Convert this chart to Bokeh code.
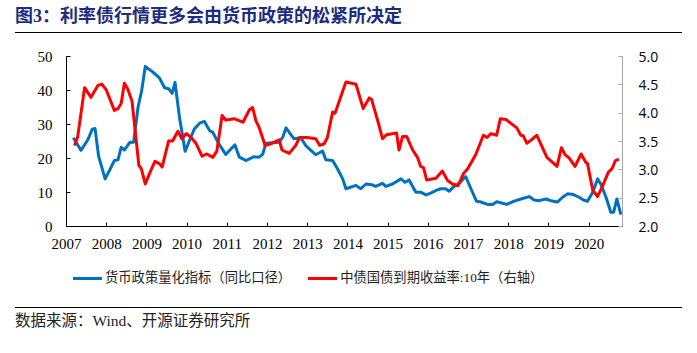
from bokeh.plotting import figure
from bokeh.models import Range1d, LinearAxis, FixedTicker, PrintfTickFormatter, Div
from bokeh.layouts import column
from bokeh.embed import file_html
from bokeh.resources import INLINE

title_text = "图3：利率债行情更多会由货币政策的松紧所决定"
source_text = "数据来源：Wind、开源证券研究所"
blue_name = "货币政策量化指标（同比口径）"
red_name = "中债国债到期收益率:10年（右轴）"

x_ticks = list(range(2007, 2021))
left_ticks = [0, 10, 20, 30, 40, 50]
right_ticks = [2.0, 2.5, 3.0, 3.5, 4.0, 4.5, 5.0]

# time in decimal years
blue_t = [2007.17, 2007.36, 2007.53, 2007.64, 2007.71, 2007.80, 2007.96, 2008.07, 2008.19, 2008.28,
          2008.36, 2008.44, 2008.57, 2008.67, 2008.78, 2008.87, 2008.96, 2009.15, 2009.31, 2009.44,
          2009.54, 2009.63, 2009.70, 2009.81, 2009.95, 2010.06, 2010.18, 2010.31, 2010.43, 2010.56,
          2010.64, 2010.79, 2010.96, 2011.09, 2011.19, 2011.30, 2011.47, 2011.65, 2011.79, 2011.88,
          2011.96, 2012.29, 2012.38, 2012.46, 2012.54, 2012.66, 2012.83, 2012.95, 2013.08, 2013.20,
          2013.37, 2013.45, 2013.62, 2013.74, 2013.87, 2013.95, 2014.20, 2014.32, 2014.45, 2014.59,
          2014.69, 2014.86, 2014.94, 2015.11, 2015.32, 2015.42, 2015.52, 2015.69, 2015.81, 2015.94,
          2016.06, 2016.19, 2016.31, 2016.43, 2016.52, 2016.64, 2016.77, 2016.93, 2017.06, 2017.20,
          2017.31, 2017.47, 2017.60, 2017.70, 2017.82, 2017.95, 2018.12, 2018.30, 2018.51, 2018.63,
          2018.76, 2018.92, 2019.05, 2019.21, 2019.34, 2019.46, 2019.61, 2019.75, 2019.86, 2019.96,
          2020.09, 2020.21, 2020.29, 2020.42, 2020.54, 2020.61, 2020.69, 2020.79]
blue_v = [26.1, 22.4, 25.5, 28.6, 28.8, 20.6, 14.0, 16.5, 19.4, 19.6,
          23.3, 22.5, 24.7, 24.8, 35.1, 40.0, 47.1, 45.4, 43.7, 40.8,
          40.5, 39.2, 42.4, 32.1, 22.1, 25.3, 28.7, 30.4, 30.9, 28.2,
          27.7, 24.3, 21.2, 22.8, 24.0, 20.4, 19.4, 20.5, 20.4, 21.2,
          24.5, 24.8, 26.3, 29.0, 27.7, 25.8, 26.1, 23.8, 22.4, 21.1,
          22.2, 19.6, 19.4, 17.0, 14.0, 11.1, 12.1, 11.1, 12.5, 12.3,
          11.8, 12.7, 11.8, 12.5, 14.0, 13.0, 13.7, 10.1, 10.1, 9.3,
          9.8, 10.6, 11.1, 11.1, 10.4, 11.8, 12.7, 14.7, 11.1, 7.4,
          7.2, 6.5, 6.5, 7.3, 6.9, 6.5, 7.4, 8.1, 8.8, 7.8,
          7.6, 8.1, 7.6, 7.2, 8.6, 9.6, 9.4, 8.6, 7.8, 7.4,
          10.1, 14.0, 12.5, 8.6, 4.2, 4.2, 8.1, 3.5]

red_t = [2007.20, 2007.28, 2007.45, 2007.61, 2007.78, 2007.88, 2007.99, 2008.19, 2008.28, 2008.36,
         2008.44, 2008.52, 2008.63, 2008.80, 2008.86, 2008.96, 2009.08, 2009.20, 2009.31, 2009.38,
         2009.54, 2009.64, 2009.77, 2009.87, 2009.98, 2010.10, 2010.22, 2010.37, 2010.49, 2010.64,
         2010.74, 2010.87, 2010.96, 2011.18, 2011.39, 2011.55, 2011.63, 2011.71, 2011.79, 2011.94,
         2012.12, 2012.29, 2012.36, 2012.54, 2012.70, 2012.80, 2012.99, 2013.20, 2013.30, 2013.41,
         2013.49, 2013.62, 2013.68, 2013.95, 2014.20, 2014.38, 2014.53, 2014.59, 2014.74, 2014.86,
         2014.96, 2015.21, 2015.27, 2015.36, 2015.46, 2015.61, 2015.73, 2015.81, 2015.88, 2015.96,
         2016.19, 2016.35, 2016.48, 2016.60, 2016.74, 2016.88, 2016.98, 2017.18, 2017.37, 2017.46,
         2017.56, 2017.70, 2017.79, 2017.93, 2018.20, 2018.30, 2018.36, 2018.45, 2018.55, 2018.70,
         2018.95, 2019.20, 2019.31, 2019.40, 2019.50, 2019.65, 2019.80, 2019.92, 2019.96, 2020.09,
         2020.21, 2020.32, 2020.48, 2020.57, 2020.65, 2020.74]
red_v = [3.43, 3.59, 4.45, 4.28, 4.49, 4.51, 4.41, 4.05, 4.08, 4.17,
         4.53, 4.43, 4.21, 3.08, 3.02, 2.75, 2.96, 3.15, 3.11, 3.05,
         3.51, 3.51, 3.68, 3.55, 3.64, 3.57, 3.47, 3.24, 3.28, 3.22,
         3.33, 3.96, 3.88, 3.90, 3.84, 4.06, 4.10, 3.87, 3.75, 3.43,
         3.47, 3.53, 3.35, 3.29, 3.43, 3.57, 3.57, 3.55, 3.43, 3.46,
         3.57, 4.02, 4.00, 4.55, 4.51, 4.08, 4.27, 4.24, 3.87, 3.55,
         3.62, 3.65, 3.35, 3.59, 3.59, 3.35, 3.22, 3.06, 3.04, 2.82,
         2.85, 2.98, 2.81, 2.75, 2.72, 2.94, 3.02, 3.27, 3.61, 3.57,
         3.64, 3.61, 3.90, 3.89, 3.74, 3.61, 3.60, 3.47, 3.52, 3.61,
         3.22, 3.06, 3.39, 3.27, 3.21, 3.06, 3.28, 3.13, 3.11, 2.64,
         2.53, 2.69, 2.96, 3.02, 3.16, 3.19]

BLUE = "#0070C0"
RED = "#FF0000"
SERIF = "'Liberation Serif', 'Noto Sans CJK SC'"

# figure occupies y = 33 .. 262 of the page; frame y = 56 .. 226
p = figure(width=697, height=229, x_range=Range1d(2007, 2020.83), y_range=Range1d(0, 50),
           output_backend="svg", toolbar_location=None, margin=0,
           min_border_left=66, min_border_right=75, min_border_top=23, min_border_bottom=36)
p.outline_line_color = None
p.xgrid.visible = False
p.ygrid.visible = False
p.extra_y_ranges = {"r": Range1d(2, 5)}

p.line(blue_t, blue_v, line_color=BLUE, line_width=3, line_join="round")
p.line(red_t, red_v, y_range_name="r", line_color=RED, line_width=3, line_join="round")

xa = p.xaxis[0]
xa.ticker = FixedTicker(ticks=x_ticks)
xa.axis_line_color = "#000000"
xa.major_tick_line_color = "#000000"
xa.major_tick_in = 4
xa.major_tick_out = 0
xa.minor_tick_line_color = None
xa.major_label_text_font = "Liberation Serif"
xa.major_label_text_font_size = "15px"
xa.major_label_text_color = "#000000"
xa.major_label_standoff = 12

ya = p.yaxis[0]
ya.ticker = FixedTicker(ticks=left_ticks)
ya.axis_line_color = "#000000"
ya.major_tick_line_color = "#000000"
ya.major_tick_in = 4
ya.major_tick_out = 0
ya.minor_tick_line_color = None
ya.major_label_text_font = "Liberation Serif"
ya.major_label_text_font_size = "15px"
ya.major_label_text_color = "#000000"
ya.major_label_standoff = 14

ra = LinearAxis(y_range_name="r", ticker=FixedTicker(ticks=right_ticks),
                formatter=PrintfTickFormatter(format="%.1f"))
ra.axis_line_color = "#A6A6A6"
ra.major_tick_line_color = "#A6A6A6"
ra.major_tick_in = 4
ra.major_tick_out = 0
ra.minor_tick_line_color = None
ra.major_label_text_font = "Open Sans"
ra.major_label_text_font_size = "14px"
ra.major_label_text_color = "#000000"
ra.major_label_standoff = 16
p.add_layout(ra, "right")

title_div = Div(width=697, height=33, margin=0, text=(
    '<div style="box-sizing:border-box;width:667px;height:33px;margin-left:15px;padding-top:6px;'
    'border-bottom:1.5px solid #000;font-family:' + SERIF + ';font-weight:bold;font-size:18px;'
    'line-height:20px;color:#1C2C7E;white-space:nowrap;">' + title_text + '</div>'))


def legend_item(color, label, gap):
    return ('<span style="display:inline-flex;align-items:center;margin-right:' + str(gap) + 'px;">'
            '<span style="display:inline-block;width:29px;height:3px;background:' + color + ';"></span>'
            '<span style="margin-left:3px;">' + label + '</span></span>')


legend_div = Div(width=697, height=38, margin=0, text=(
    '<div style="box-sizing:border-box;width:697px;height:38px;padding-left:73px;padding-bottom:6px;'
    'font-family:' + SERIF + ';font-size:13.3px;line-height:18px;color:#222222;white-space:nowrap;'
    'display:flex;align-items:center;">'
    + legend_item(BLUE, blue_name, 17) + legend_item(RED, red_name, 0) + '</div>'))

source_div = Div(width=697, height=53, margin=0, text=(
    '<div style="box-sizing:border-box;width:667px;margin-left:15px;margin-top:7px;padding-top:4px;'
    'border-top:1.5px solid #000;font-family:' + SERIF + ';font-size:15.5px;line-height:18px;'
    'color:#222222;white-space:nowrap;">' + source_text + '</div>'))

layout = column(title_div, p, legend_div, source_div, spacing=0)

open("out.html", "w").write(file_html(layout, INLINE))
